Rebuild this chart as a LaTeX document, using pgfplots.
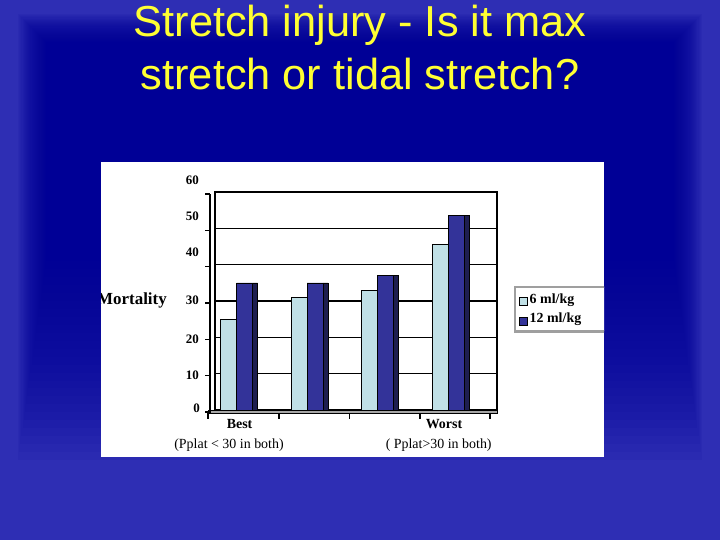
\documentclass[border=0pt]{standalone}
\usepackage{fontspec}
\setmainfont{Liberation Serif}
\newfontfamily\titlefont{Liberation Sans}
\usepackage{pgfplots}
\usepackage{pgfplotstable}
\pgfplotsset{compat=1.18}

\definecolor{bgblue}{HTML}{2E2EB4}
\definecolor{navy}{HTML}{000096}
\definecolor{titleyellow}{HTML}{FFFF33}
\definecolor{lightbar}{HTML}{C0E0E6}
\definecolor{darkbar}{HTML}{333399}
\definecolor{darkside}{HTML}{1E1E50}

% mortality (%) by plateau-pressure group
\pgfplotstableread{
x six twelve
0 25   35
1 31   35
2 33   37
3 45.5 53.5
}\mortality

\begin{document}
\begin{tikzpicture}
\begin{scope}[x=1bp,y=-1bp]
  \useasboundingbox (0,0) rectangle (720,540);
  \fill[bgblue] (0,0) rectangle (720,540);
  % soft dark centre of the slide background
  \foreach \i in {0,...,39} {
    \pgfmathsetmacro\s{1-\i/39}
    \pgfmathsetmacro\xa{62-44*\s}
    \pgfmathsetmacro\ya{58-44*\s}
    \pgfmathsetmacro\xb{658+44*\s}
    \pgfmathsetmacro\yb{150+310*\s}
    \fill[navy, opacity=0.07] (\xa,\ya) rectangle (\xb,\yb);
  }
  \node[anchor=base, text=titleyellow, font=\titlefont\fontsize{43.5}{52}\selectfont]
    at (360,36.7) {Stretch injury - Is it max};
  \node[anchor=base, text=titleyellow, font=\titlefont\fontsize{43.5}{52}\selectfont]
    at (360,90) {stretch or tidal stretch?};
  \fill[white] (101,162) rectangle (604,457);
\end{scope}

\begin{scope}
\clip (101bp,-162bp) rectangle (604bp,-457bp);
\begin{axis}[
  at={(215bp,-410bp)}, anchor=south west,
  scale only axis, width=282bp, height=218bp,
  xmin=-0.308, xmax=3.692, ymin=0, ymax=60,
  ybar, bar width=16bp,
  xtick=\empty,
  ytick={0,10,...,60}, yticklabels={},
  major tick length=0pt, tick style={draw=none},
  ymajorgrids, grid style={black, line width=1.6bp},
  axis line style={black, line width=1.6bp},
  clip=false,
  legend style={at={(1.0603,0.5688)}, anchor=north west,
    draw=gray!75, line width=2.2bp, fill=white,
    font=\bfseries\fontsize{14}{16}\selectfont,
    inner xsep=4bp, inner ysep=5bp, row sep=4bp},
  legend cell align=left,
  legend image code/.code={\draw[#1, line width=0.6bp] (0bp,-6bp) rectangle (8bp,2bp);},
]
  % floor of the 3-D chart
  \draw[black, line width=0.6bp, fill=gray!70]
    (axis cs:-0.407,0) rectangle ([yshift=-3bp]axis cs:3.692,0);

  \addplot[fill=lightbar, draw=black, line width=0.6bp, bar shift=-8bp]
    table[x=x, y=six] {\mortality};
  \addlegendentry{\makebox[90bp][l]{6 ml/kg}}
  \addplot[fill=darkbar, draw=black, line width=0.6bp, bar shift=8bp]
    table[x=x, y=twelve] {\mortality};
  \addlegendentry{\makebox[90bp][l]{12 ml/kg}}
  % side faces of the dark columns
  \addplot[fill=darkside, draw=black, line width=0.6bp, bar width=5bp,
    bar shift=18.5bp, forget plot]
    table[x=x, y=twelve] {\mortality};

  % front edge of the floor, category boundary ticks
  \draw[black, line width=1bp] ([yshift=-3bp]axis cs:-0.407,0) -- ([yshift=-3bp]axis cs:3.593,0);
  \pgfplotsinvokeforeach{-0.407,0.6,1.6,2.6,3.593}{
    \draw[black, line width=1.2bp] ([yshift=-3bp]axis cs:#1,0) -- ([yshift=-9bp]axis cs:#1,0);
  }
  % left wall with outward ticks
  \draw[black, line width=1.4bp] ([xshift=-5bp,yshift=-3bp]axis cs:-0.308,0) -- ([xshift=-5bp,yshift=-2bp]axis cs:-0.308,60);
  \pgfplotsinvokeforeach{0,10,20,30,40,50,60}{
    \draw[black, line width=1.2bp] ([xshift=-5bp,yshift=-2bp]axis cs:-0.308,#1) -- ([xshift=-10bp,yshift=-2bp]axis cs:-0.308,#1);
  }

  % value labels, placed as they sit in the original
  \node[anchor=east, inner sep=0pt, font=\bfseries\fontsize{13}{15}\selectfont] at ([xshift=-15bp]axis cs:-0.308,0.5) {0};
  \node[anchor=east, inner sep=0pt, font=\bfseries\fontsize{13}{15}\selectfont] at ([xshift=-16bp]axis cs:-0.308,9.6) {10};
  \node[anchor=east, inner sep=0pt, font=\bfseries\fontsize{13}{15}\selectfont] at ([xshift=-16bp]axis cs:-0.308,19.5) {20};
  \node[anchor=east, inner sep=0pt, font=\bfseries\fontsize{13}{15}\selectfont] at ([xshift=-16bp]axis cs:-0.308,30.1) {30};
  \node[anchor=east, inner sep=0pt, font=\bfseries\fontsize{13}{15}\selectfont] at ([xshift=-16bp]axis cs:-0.308,43.3) {40};
  \node[anchor=east, inner sep=0pt, font=\bfseries\fontsize{13}{15}\selectfont] at ([xshift=-16bp]axis cs:-0.308,53.2) {50};
  \node[anchor=east, inner sep=0pt, font=\bfseries\fontsize{13}{15}\selectfont] at ([xshift=-16bp]axis cs:-0.308,63.1) {60};
  \node[anchor=east, inner sep=0pt, font=\bfseries\fontsize{17}{19}\selectfont]
    at ([xshift=-48bp]axis cs:-0.308,30.1) {Mortality};

  \node[font=\bfseries\fontsize{14}{16}\selectfont] at ([yshift=-14bp]axis cs:0.04,0) {Best};
  \node[font=\fontsize{14}{16}\selectfont] at ([yshift=-35bp]axis cs:-0.109,0) {(Pplat < 30 in both)};
  \node[font=\bfseries\fontsize{14}{16}\selectfont] at ([yshift=-14bp]axis cs:2.94,0) {Worst};
  \node[font=\fontsize{14}{16}\selectfont] at ([yshift=-35bp]axis cs:2.865,0) {( Pplat>30 in both)};
\end{axis}
\end{scope}
\end{tikzpicture}
\end{document}
